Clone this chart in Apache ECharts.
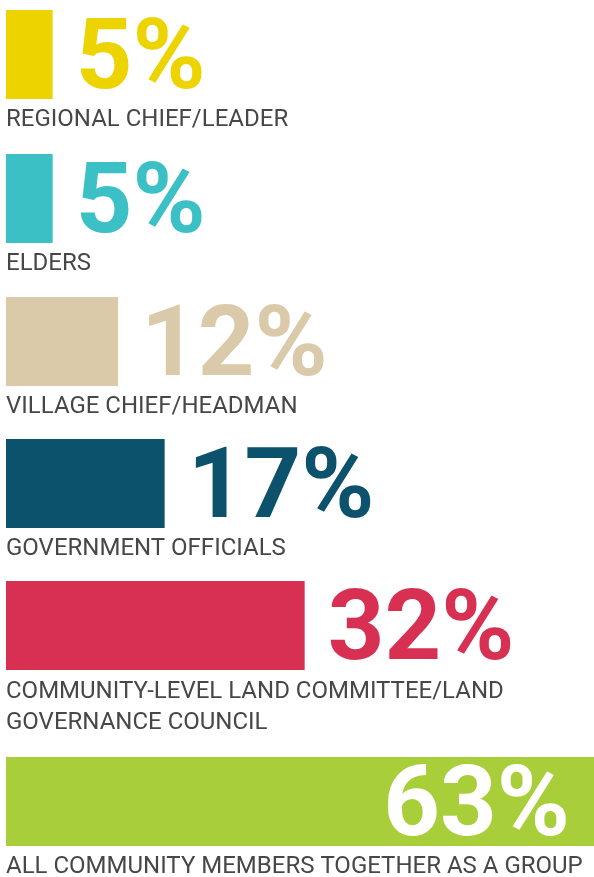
<!DOCTYPE html>
<html>
<head>
<meta charset="utf-8">
<script src="https://cdn.jsdelivr.net/npm/echarts@6/dist/echarts.min.js"></script>
<style>
html,body{margin:0;padding:0;background:#fff;}
#chart{width:594px;height:877px;}
</style>
</head>
<body>
<div id="chart"></div>
<script>
var categories = [
  "REGIONAL CHIEF/LEADER",
  "ELDERS",
  "VILLAGE CHIEF/HEADMAN",
  "GOVERNMENT OFFICIALS",
  "COMMUNITY-LEVEL LAND COMMITTEE/LAND\nGOVERNANCE COUNCIL",
  "ALL COMMUNITY MEMBERS TOGETHER AS A GROUP"
];
var values = [5, 5, 12, 17, 32, 63];
var colors = ["#EDD400", "#3BC0C5", "#DBCAAA", "#0C526D", "#D83052", "#A8CE3A"];

// layout
var barTops = [10, 154, 297, 439, 581, 757];
var barH = 89;
var xMax = 63;
var FONT = "Roboto";

var grids = [], xAxes = [], yAxes = [], series = [], titles = [];
categories.forEach(function (cat, i) {
  var last = i === categories.length - 1;
  grids.push({ left: 6, right: 0, top: barTops[i], height: barH });
  xAxes.push({ type: 'value', gridIndex: i, min: 0, max: xMax, show: false });
  yAxes.push({ type: 'category', gridIndex: i, data: [cat], show: false });
  series.push({
    type: 'bar',
    xAxisIndex: i,
    yAxisIndex: i,
    barWidth: '100%',
    data: [values[i]],
    itemStyle: { color: colors[i] },
    silent: true,
    animation: false,
    label: {
      show: true,
      position: last ? 'insideRight' : 'right',
      distance: last ? 24 : 23,
      offset: [0, 9],
      formatter: '{c}%',
      fontFamily: FONT,
      fontWeight: 'bold',
      fontSize: 99,
      color: last ? '#ffffff' : colors[i]
    }
  });
  titles.push({
    text: cat,
    left: 6,
    top: barTops[i] + barH + (cat.indexOf('\n') >= 0 ? 6 : 5),
    padding: 0,
    textStyle: {
      fontFamily: FONT,
      fontWeight: 'normal',
      fontSize: 24,
      lineHeight: 31,
      color: '#474747'
    }
  });
});

var chart = echarts.init(document.getElementById('chart'), null, { renderer: 'canvas' });
chart.setOption({
  animation: false,
  backgroundColor: '#ffffff',
  title: titles,
  grid: grids,
  xAxis: xAxes,
  yAxis: yAxes,
  series: series
});
</script>
</body>
</html>
